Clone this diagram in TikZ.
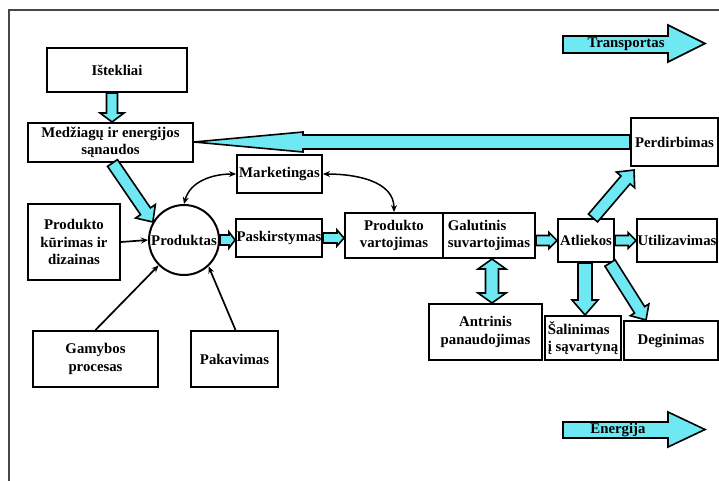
\documentclass[tikz,border=0pt]{standalone}
\usepackage{fontspec}
\setmainfont{Liberation Serif}
\usetikzlibrary{calc,arrows.meta}
\definecolor{cy}{RGB}{110,232,242}
\definecolor{frm}{RGB}{70,70,70}
% block arrow: #1 start, #2 tip, #3 shaft half width, #4 head half width, #5 head length
\newcommand\cyanarrow[5]{%
  \coordinate (hh) at ($(#2)!#5!(#1)$);
  \filldraw[barrow] ($(#1)!#3!-90:(#2)$) -- ($(hh)!#3!-90:(#2)$) -- ($(hh)!#4!-90:(#2)$) -- (#2)
    -- ($(hh)!#4!90:(#2)$) -- ($(hh)!#3!90:(#2)$) -- ($(#1)!#3!90:(#2)$) -- cycle;}
\newcommand\cyandouble[5]{%
  \coordinate (hA) at ($(#1)!#5!(#2)$);
  \coordinate (hB) at ($(#2)!#5!(#1)$);
  \filldraw[barrow] (#1) -- ($(hA)!#4!90:(#1)$) -- ($(hA)!#3!90:(#1)$) -- ($(hB)!#3!-90:(#2)$)
    -- ($(hB)!#4!-90:(#2)$) -- (#2) -- ($(hB)!#4!90:(#2)$) -- ($(hB)!#3!90:(#2)$)
    -- ($(hA)!#3!-90:(#1)$) -- ($(hA)!#4!-90:(#1)$) -- cycle;}
\begin{document}
\begin{tikzpicture}[x=1pt,y=-1pt,
  txt/.style={font=\bfseries\fontsize{14.8}{17.5}\selectfont},
  box/.style={draw, line width=2pt, inner sep=0.5pt, align=center, txt},
  barrow/.style={draw=black, fill=cy, line width=1.6pt, line join=miter},
  thinarr/.style={line width=1.7pt, -{Stealth[length=7pt,width=6pt]}},
  curvarr/.style={line width=1.5pt, {Stealth[length=7pt,width=6pt]}-{Stealth[length=7pt,width=6pt]}}]
\useasboundingbox (0,0) rectangle (719,481);
\fill[white] (0,0) rectangle (719,481);
\draw[frm, line width=2pt] (9,481) -- (9,10) -- (719,10);

% nodes
\node[box, minimum width=140pt, minimum height=44pt] (ist) at (117,70) {Ištekliai};
\node[box, minimum width=165pt, minimum height=39pt] (med) at (110.5,142.5) {Medžiagų ir energijos\\sąnaudos};
\node[box, minimum width=85pt, minimum height=38pt] (mark) at (279.5,174) {Marketingas};
\node[box, minimum width=92pt, minimum height=76pt] (prk) at (74,242) {Produkto\\kūrimas ir\\dizainas};
\node[circle, draw, line width=2pt, minimum size=70pt, inner sep=0pt, txt] (prod) at (184,240) {Produktas};
\node[box, minimum width=86pt, minimum height=38pt] (pask) at (279,238) {Paskirstymas};
\node[box, minimum width=98pt, minimum height=45pt] (pv) at (394,235.5) {Produkto\\vartojimas};
\node[box, minimum width=92pt, minimum height=45pt, align=left] (gal) at (489,235.5) {Galutinis\\suvartojimas};
\node[box, minimum width=56pt, minimum height=43pt] (atl) at (586,240.5) {Atliekos};
\node[box, minimum width=78pt, minimum height=43pt] (util) at (677,240.5) {Utilizavimas};
\node[box, minimum width=87pt, minimum height=48pt] (perd) at (674.5,142) {Perdirbimas};
\node[box, minimum width=113pt, minimum height=56pt] (antr) at (485.5,332) {Antrinis\\panaudojimas};
\node[box, minimum width=76pt, minimum height=44pt, align=left] (sal) at (583,338) {Šalinimas\\į sąvartyną};
\node[box, minimum width=94pt, minimum height=39pt] (deg) at (671,340.5) {Deginimas};
\node[box, minimum width=125pt, minimum height=56pt] (gam) at (95.5,359) {Gamybos\\procesas};
\node[box, minimum width=87pt, minimum height=56pt] (pak) at (234.5,359) {Pakavimas};

% connector end points
\coordinate (a1s) at ($(ist.south)+(-5,0)$);
\coordinate (a1e) at (a1s |- med.north);
\coordinate (a2s) at ($(med.south)+(2,0)$);
\coordinate (a3e) at (prod.east -| pask.west);
\coordinate (a4e) at (pask.east -| pv.west);
\coordinate (a5s) at (atl.west -| gal.east);
\coordinate (a6e) at (perd.west -| med.east);
\coordinate (a7s) at ($(atl.north)+(7,0)$);
\coordinate (a7e) at ($(perd.south west)+(4,3)$);
\coordinate (a8s) at ($(atl.south)+(-1,0)$);
\coordinate (a8e) at (a8s |- sal.north);
\coordinate (a9s) at ($(atl.south east)+(-5,0)$);
\coordinate (a9e) at ($(deg.north west)+(23,0)$);
\coordinate (a10s) at ($(gal.south)+(3,0)$);
\coordinate (a10e) at (a10s |- antr.north);
\coordinate (pakn) at ($(pak.north)+(1,0)$);

% cyan block arrows
\cyanarrow{a1s}{a1e}{5.5pt}{12pt}{9pt}
\cyanarrow{a2s}{prod.150}{6pt}{12pt}{13pt}
\cyanarrow{prod.east}{a3e}{5pt}{8pt}{6pt}
\cyanarrow{pask.east}{a4e}{5pt}{8pt}{7pt}
\cyanarrow{a5s}{atl.west}{5pt}{8pt}{8pt}
\cyanarrow{atl.east}{util.west}{5pt}{8pt}{8pt}
\cyanarrow{perd.west}{a6e}{7pt}{10pt}{109pt}
\cyanarrow{a7s}{a7e}{6pt}{12pt}{13pt}
\cyanarrow{a8s}{a8e}{7pt}{13pt}{15pt}
\cyanarrow{a9s}{a9e}{6pt}{11pt}{12pt}
\cyandouble{a10s}{a10e}{6.5pt}{14pt}{10pt}

% thin arrows
\draw[thinarr] (prk.east) -- (prod.west);
\draw[thinarr] (gam.north) -- (prod.225);
\draw[thinarr] (pakn) -- (prod.313);
\draw[curvarr] (prod.north) to[out=75,in=180] (mark.west);
\draw[curvarr] (mark.east) to[out=0,in=90] (pv.north);

% legend arrows
\filldraw[barrow] (563,36) -- (668,36) -- (668,25) -- (705,43.5) -- (668,62) -- (668,53) -- (563,53) -- cycle;
\node[txt, inner sep=0pt] (tr) at (626,44.5) {Transportas};
\filldraw[barrow] (563,422) -- (668,422) -- (668,412) -- (705,429.5) -- (668,447) -- (668,438) -- (563,438) -- cycle;
\node[txt, inner sep=0pt] (en) at (618,430) {Energija};
\end{tikzpicture}
\end{document}
